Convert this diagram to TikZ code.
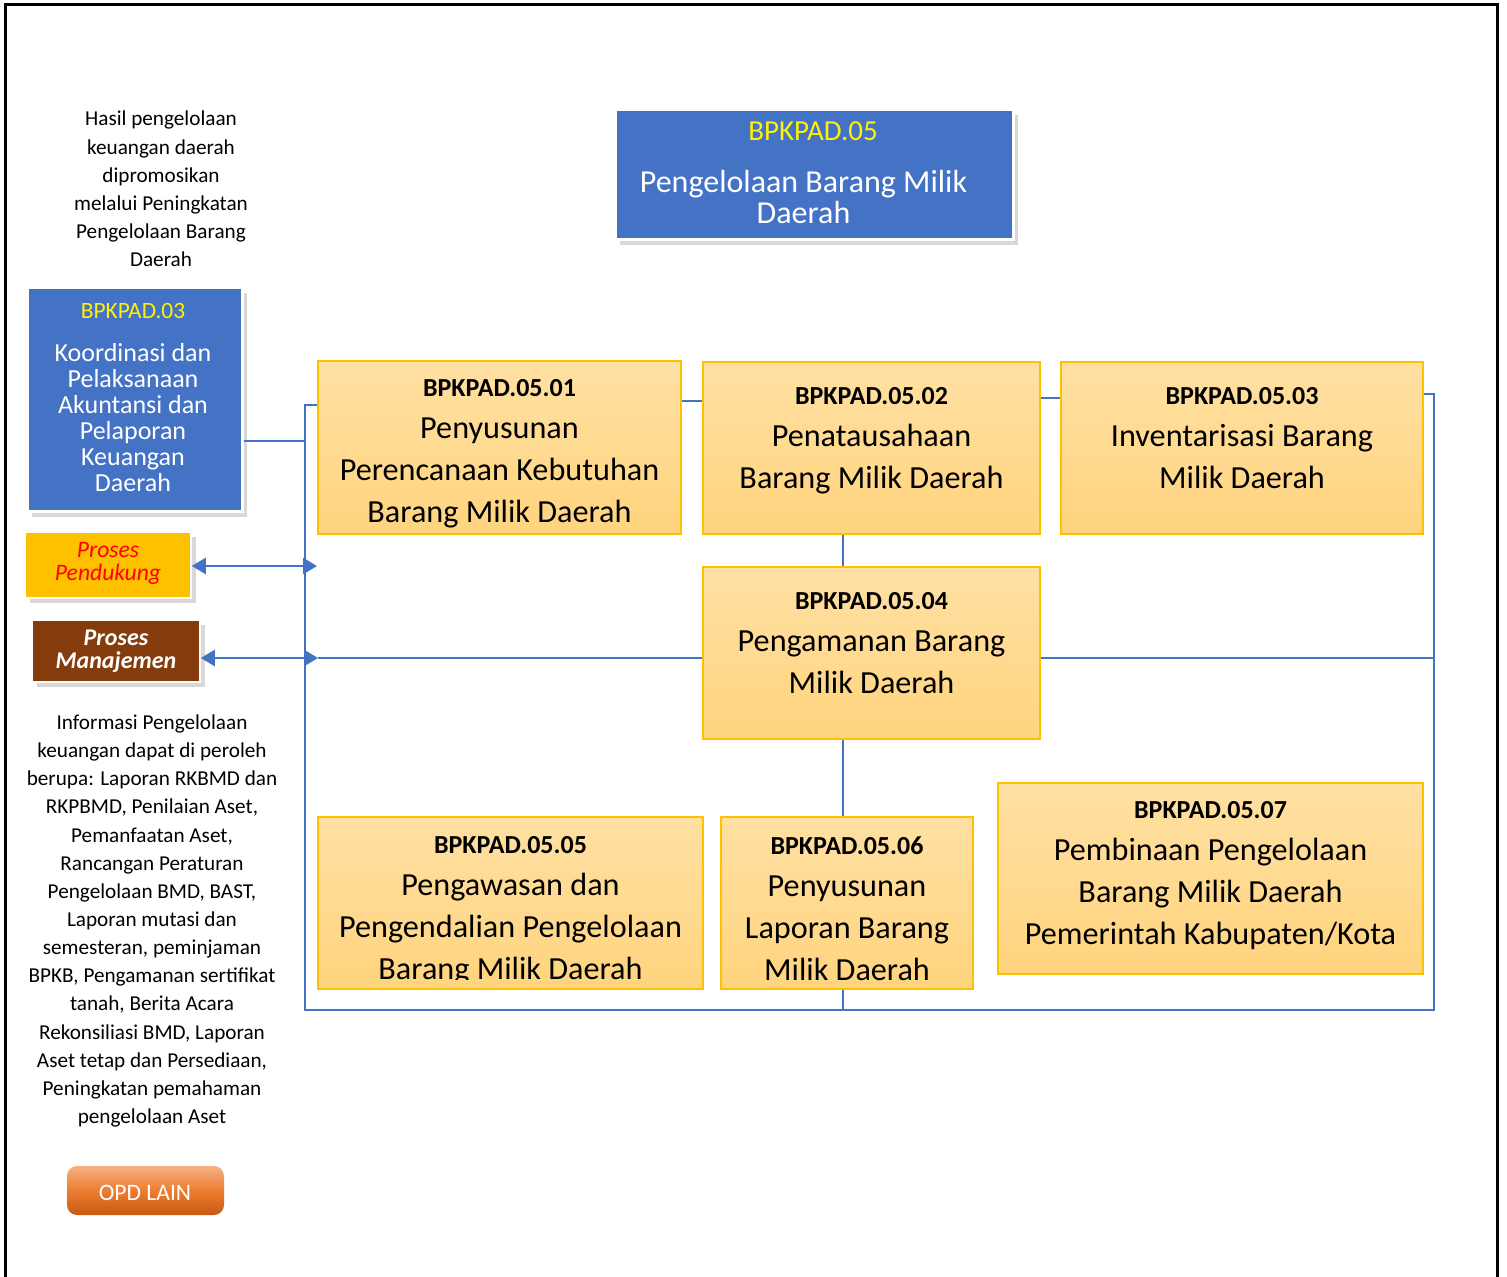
\documentclass[tikz,border=0pt]{standalone}
\usepackage{fontspec}
\setmainfont{Carlito}
\usetikzlibrary{fit,shadows,arrows.meta}
\definecolor{bblue}{HTML}{4472C4}
\definecolor{gold}{HTML}{FFC000}
\definecolor{mbrown}{HTML}{843C0C}
\definecolor{otop}{HTML}{FFE0A3}
\definecolor{obot}{HTML}{FFD47E}
\definecolor{opdtop}{HTML}{F4B183}
\definecolor{opdmid}{HTML}{ED7D31}
\definecolor{opdbot}{HTML}{C55A11}
\newcommand\hd[1]{{\fontsize{13}{21}\selectfont\bfseries #1}}
\begin{document}
\begin{tikzpicture}[x=0.5pt,y=-0.5pt,
  bluebox/.style={fill=bblue, draw=white, line width=1.5pt, inner sep=0pt,
    drop shadow={shadow xshift=2.5pt, shadow yshift=-2.5pt, opacity=0.3}},
  procbox/.style={draw=white, line width=0.8pt, inner sep=0pt,
    drop shadow={shadow xshift=2.5pt, shadow yshift=-2.5pt, opacity=0.3}},
  orangebox/.style={top color=otop, bottom color=obot, draw=gold, line width=1pt, inner sep=0pt},
  txt/.style={align=center, inner sep=0pt},
  otext/.style={txt, font=\fontsize{16.1}{21}\selectfont},
  note/.style={txt, font=\fontsize{10.6}{14.07}\selectfont},
  conn/.style={draw=bblue, line width=1.3pt, >={Triangle[length=7pt,width=8pt]}}]

\useasboundingbox (0,0) rectangle (1507,1277);
\fill[white] (0,0) rectangle (1507,1277);

% outer frame (open at the bottom)
\draw[line width=1.5pt] (5,1277) -- (5,5) -- (1497,5) -- (1497,1277);

% main title box
\node[bluebox, fit={(615,110) (1013,240)}] (b05) {};
\node[txt, text=yellow, font=\fontsize{14.5}{17}\selectfont] (b05t) at (813,131) {BPKPAD.05};
\node[txt, text=white, font=\fontsize{16}{15.5}\selectfont] (b05b) at (803.5,197.5) {Pengelolaan Barang Milik\\Daerah};

% left column
\node[note] (note1) at (161,189) {Hasil pengelolaan\\keuangan daerah\\dipromosikan\\melalui Peningkatan\\Pengelolaan Barang\\Daerah};

\node[bluebox, fit={(27,288) (242,512)}] (b03) {};
\node[txt, text=yellow, font=\fontsize{11.7}{14}\selectfont] (b03t) at (133,311) {BPKPAD.03};
\node[txt, text=white, font=\fontsize{13}{13}\selectfont] (b03b) at (133,418) {Koordinasi dan\\Pelaksanaan\\Akuntansi dan\\Pelaporan\\Keuangan\\Daerah};

\node[procbox, fill=gold, fit={(25,532) (191,598)}] (pend) {};
\node[txt, text=red, font=\itshape\fontsize{11.8}{11.5}\selectfont] (pendt) at (108,563) {Proses\\Pendukung};
\node[procbox, fill=mbrown, fit={(32,620) (200,682)}] (man) {};
\node[txt, text=white, font=\bfseries\itshape\fontsize{12}{11.5}\selectfont] (mant) at (116,651) {Proses\\Manajemen};

\node[note] (note2) at (152,921) {Informasi Pengelolaan\\keuangan dapat di peroleh\\berupa: Laporan RKBMD dan\\RKPBMD, Penilaian Aset,\\Pemanfaatan Aset,\\Rancangan Peraturan\\Pengelolaan BMD, BAST,\\Laporan mutasi dan\\semesteran, peminjaman\\BPKB, Pengamanan sertifikat\\tanah, Berita Acara\\Rekonsiliasi BMD, Laporan\\Aset tetap dan Persediaan,\\Peningkatan pemahaman\\pengelolaan Aset};

\node[fit={(67,1166) (224,1215)}, inner sep=0pt, rounded corners=5pt,
  top color=opdtop, bottom color=opdbot, middle color=opdmid] (opd) {};
\node[txt, text=white, font=\fontsize{11.8}{14}\selectfont] (opdt) at (145,1193) {OPD LAIN};

% activity boxes
\node[orangebox, fit={(318,361) (681,534)}] (p01) {};
\node[otext] (p01t) at (499.5,454) {\hd{BPKPAD.05.01}\\Penyusunan\\Perencanaan Kebutuhan\\Barang Milik Daerah};

\node[orangebox, fit={(703,362) (1040,534)}] (p02) {};
\node[otext] (p02t) at (871.5,440.5) {\hd{BPKPAD.05.02}\\Penatausahaan\\Barang Milik Daerah};

\node[orangebox, fit={(1061,362) (1423,534)}] (p03) {};
\node[otext] (p03t) at (1242,438.5) {\hd{BPKPAD.05.03}\\Inventarisasi Barang\\Milik Daerah};

\node[orangebox, fit={(703,567) (1040,739)}] (p04) {};
\node[otext] (p04t) at (871.5,643.5) {\hd{BPKPAD.05.04}\\Pengamanan Barang\\Milik Daerah};

\node[orangebox, fit={(318,817) (703,989)}] (p05) {};
\begin{scope}
  \clip (318,817) rectangle (703,979);
  \node[otext] (p05t) at (510.5,911) {\hd{BPKPAD.05.05}\\Pengawasan dan\\Pengendalian Pengelolaan\\Barang Milik Daerah};
\end{scope}

\node[orangebox, fit={(721,817) (973,989)}] (p06) {};
\node[otext] (p06t) at (847,909) {\hd{BPKPAD.05.06}\\Penyusunan\\Laporan Barang\\Milik Daerah};

\node[orangebox, fit={(998,783) (1423,974)}] (p07) {};
\node[otext] (p07t) at (1210.5,876) {\hd{BPKPAD.05.07}\\Pembinaan Pengelolaan\\Barang Milik Daerah\\Pemerintah Kabupaten/Kota};

% connector routing points
\coordinate (spT) at (305,405);
\coordinate (spB) at (305,1010);
\coordinate (rgT) at (1434,394);
\coordinate (rgB) at (1434,1010);
\coordinate (lv1) at (690,401);
\coordinate (lv2) at (1050,398);
\coordinate (lv3) at (270,441);
\coordinate (lvP) at (250,566);
\coordinate (lvM) at (318,658);
\coordinate (vx) at (843,760);

% connectors
\draw[conn] (p01.west |- spT) -- (spT) -- (spB) -- (rgB) -- (rgT) -- (p03.east |- rgT);
\draw[conn] (p01.east |- lv1) -- (p02.west |- lv1);
\draw[conn] (p02.east |- lv2) -- (p03.west |- lv2);
\draw[conn] (b03.east |- lv3) -- (spT |- lv3);
\draw[conn] (vx |- p02.south) -- (vx |- p04.north);
\draw[conn] (vx |- p04.south) -- (vx |- p06.north);
\draw[conn] (vx |- p06.south) -- (vx |- spB);
\draw[conn, <->] (pend.east |- lvP) -- (p01.west |- lvP);
\draw[conn, <->] (man.east |- lvM) -- (lvM);
\draw[conn] (lvM) -- (p04.west |- lvM);
\draw[conn] (p04.east |- lvM) -- (rgT |- lvM);

\end{tikzpicture}
\end{document}
